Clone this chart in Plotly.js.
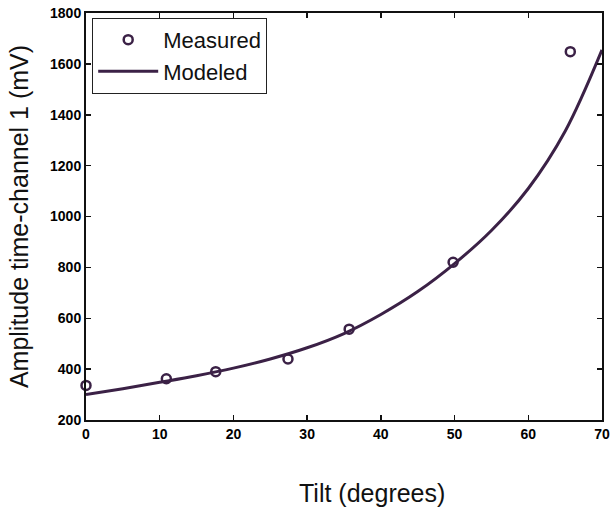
<!DOCTYPE html>
<html>
<head>
<meta charset="utf-8">
<script src="https://cdn.plot.ly/plotly-3.0.1.min.js"></script>
<style>html,body{margin:0;padding:0;background:#fff;}#chart{width:613px;height:513px;}</style>
</head>
<body>
<div id="chart"></div>
<script>
// Measured points
var measuredTilt = [0, 10.9, 17.6, 27.4, 35.7, 49.8, 65.7];
var measuredAmp  = [336, 362, 390, 440, 557, 820, 1648];
// Modeled curve
var modelTilt = [0, 5, 10, 15, 20, 25, 30, 35, 40, 45, 50, 55, 60, 65, 70];
var modelAmp  = [300, 323, 348, 374, 404, 440, 484, 540, 615, 705, 815, 945, 1110, 1335, 1655];
var xTicks = [0, 10, 20, 30, 40, 50, 60, 70];
var yTicks = [200, 400, 600, 800, 1000, 1200, 1400, 1600, 1800];
var xTitle = 'Tilt (degrees)';
var yTitle = 'Amplitude time-channel 1 (mV)';

var col = '#3b2146';
var fam = 'Liberation Sans, Arial, sans-serif';
var traces = [
  {x: measuredTilt, y: measuredAmp, mode: 'markers', name: 'Measured', cliponaxis: false,
   marker: {symbol: 'circle-open', size: 9, color: col, line: {width: 2.5, color: col}}},
  {x: modelTilt, y: modelAmp, mode: 'lines', name: 'Modeled',
   line: {color: col, width: 3, shape: 'spline', smoothing: 1}}
];
var axisCommon = {
  showgrid: false, zeroline: false, showline: true, linecolor: '#111', linewidth: 2,
  mirror: 'ticks', ticks: 'inside', ticklen: 5, tickwidth: 1.5, tickcolor: '#111',
  tickfont: {family: fam, size: 14, color: '#000', weight: 'bold'}
};
var layout = {
  width: 613, height: 513,
  margin: {l: 86, r: 11, t: 13, b: 93},
  paper_bgcolor: '#fff', plot_bgcolor: '#fff',
  showlegend: true,
  legend: {x: 0.012, y: 0.988, xanchor: 'left', yanchor: 'top', bgcolor: '#fff',
           bordercolor: '#222', borderwidth: 1, itemwidth: 60,
           font: {family: fam, size: 22, color: '#111'},
           tracegroupgap: 0},
  xaxis: Object.assign({}, axisCommon, {range: [0, 70], tickvals: xTicks}),
  yaxis: Object.assign({}, axisCommon, {range: [200, 1800], tickvals: yTicks,
           title: {text: yTitle, standoff: 14,
                   font: {family: fam, size: 25, color: '#111'}}}),
  annotations: [{text: xTitle, xref: 'paper', yref: 'paper', x: 0.555, y: -0.18,
                 xanchor: 'center', yanchor: 'middle', showarrow: false,
                 font: {family: fam, size: 25, color: '#111'}}]
};
Plotly.newPlot('chart', traces, layout, {displayModeBar: false, staticPlot: true});
</script>
</body>
</html>
